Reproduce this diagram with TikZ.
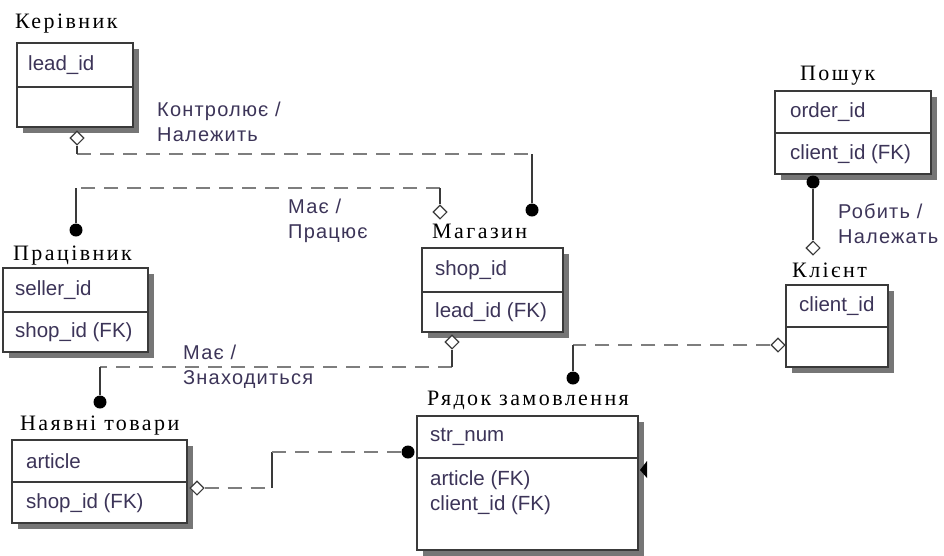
\documentclass[tikz,border=0pt]{standalone}
\usepackage{fontspec}
\setmainfont{Liberation Sans}
\newfontfamily\titlefont[LetterSpace=11]{Liberation Serif}
\newfontfamily\labelfont[LetterSpace=6]{Liberation Sans}
\usetikzlibrary{shapes.geometric,calc}

\definecolor{attrcol}{HTML}{3C3458}
\definecolor{boxcol}{HTML}{3A3A3A}
\definecolor{relgray}{HTML}{7E7E7E}
\definecolor{shadowgray}{HTML}{767676}

% entity: name, left, top, width, height of key part, total height
\newcommand{\entity}[6]{%
  \fill[shadowgray] (#2+6,#3+6) rectangle ++(#4,#6);
  \node[entitybox, minimum width=#4pt, minimum height=#6pt, anchor=north west] (#1) at (#2,#3) {};
  \draw[divider] ($(#1.north west)+(0,#5)$) -- ($(#1.north east)+(0,#5)$);
}

\begin{document}
\begin{tikzpicture}[x=1pt,y=-1pt,
    entitybox/.style={draw=boxcol, line width=1.3pt, fill=white, inner sep=0pt, outer sep=0pt},
    divider/.style={draw=boxcol, line width=1.3pt},
    attr/.style={text=attrcol, font=\fontsize{20.5}{25}\selectfont, inner sep=0pt, anchor=west},
    title/.style={font=\titlefont\fontsize{22}{26}\selectfont, inner sep=0pt, anchor=base west},
    rellabel/.style={text=attrcol, font=\labelfont\fontsize{20}{25}\selectfont, align=left, inner sep=0pt, anchor=west},
    hrel/.style={draw=relgray, line width=2.4pt, dash pattern=on 14pt off 9pt},
    vrel/.style={draw=boxcol, line width=1.2pt},
    opt/.style={diamond, draw=boxcol, fill=white, line width=1.1pt, minimum size=14pt, inner sep=0pt},
    mand/.style={circle, fill=black, minimum size=13pt, inner sep=0pt}]
    \useasboundingbox (0,0) rectangle (944,555);

    % entities
    \entity{lead}{17}{43}{116}{44}{84}
    \entity{shop}{422}{248}{141}{44}{84}
    \entity{seller}{3}{268}{145}{44}{84}
    \entity{goods}{12}{440}{175}{42}{83}
    \entity{orderline}{417}{416}{221}{42}{134}
    \entity{client}{786}{285}{102}{42}{82}
    \entity{search}{775}{91}{156}{42}{83}

    \node[title] (leadname) at (15,28) {Керівник};
    \node[title] (shopname) at (432,238) {Магазин};
    \node[title] (sellername) at (13,260) {Працівник};
    \node[title] (goodsname) at (20,430) {Наявні товари};
    \node[title] (orderlinename) at (427,405) {Рядок замовлення};
    \node[title] (clientname) at (792,277) {Клієнт};
    \node[title] (searchname) at (800,80) {Пошук};

    \foreach \n/\x/\y/\t in {leadpk/28/65/lead\_id,
                             shoppk/435/270/shop\_id, shopfk/435/312/lead\_id (FK),
                             sellerpk/15/290/seller\_id, sellerfk/15/332/shop\_id (FK),
                             goodspk/26/461/article, goodsfk/26/503/shop\_id (FK),
                             orderlinepk/430/437/str\_num, orderlinefka/430/480/article (FK),
                             orderlinefkb/430/505/client\_id (FK),
                             clientpk/799/306/client\_id,
                             searchpk/790/112/order\_id, searchfk/790/154/client\_id (FK)}
        \node[attr] (\n) at (\x,\y) {\t};

    % relationship ends
    \node[opt] (o1) at (77,138) {};
    \node[mand] (m1) at (532,210) {};
    \node[opt] (o2) at (440,212) {};
    \node[mand] (m2) at (76,230) {};
    \node[opt] (o3) at (452,342) {};
    \node[mand] (m3) at (100,402) {};
    \node[opt] (o4) at (197,488) {};
    \node[mand] (m4) at (408,452) {};
    \node[opt] (o5) at (778,345) {};
    \node[mand] (m5) at (573,378) {};
    \node[mand] (m6) at (813,182) {};
    \node[opt] (o6) at (813,248) {};

    % Контролює / Належить
    \draw[hrel] (o1.south |- 0,154) -- (m1.north |- 0,154);
    \draw[vrel] (o1.south) -- (o1.south |- 0,154);
    \draw[vrel] (m1.north) -- (m1.north |- 0,154);
    \node[rellabel] (r1) at (157,122) {Контролює /\\Належить};

    % Має / Працює
    \draw[hrel] (o2.north |- 0,188) -- (m2.north |- 0,188);
    \draw[vrel] (o2.north) -- (o2.north |- 0,188);
    \draw[vrel] (m2.north) -- (m2.north |- 0,188);
    \node[rellabel] (r2) at (288,221) {Має /\\Працює};

    % Має / Знаходиться
    \draw[hrel] (o3.south |- 0,367) -- (m3.north |- 0,367);
    \draw[vrel] (o3.south) -- (o3.south |- 0,367);
    \draw[vrel] (m3.north) -- (m3.north |- 0,367);
    \node[rellabel] (r3) at (183,367) {Має /\\Знаходиться};

    % Наявні товари -- Рядок замовлення
    \draw[hrel] (o4.east) -- (o4.east -| 272,0);
    \draw[vrel] (o4.east -| 272,0) -- (m4.west -| 272,0);
    \draw[hrel] (m4.west -| 272,0) -- (m4.west);

    % Клієнт -- Рядок замовлення
    \draw[hrel] (o5.west) -- (o5.west -| m5.north);
    \draw[vrel] (o5.west -| m5.north) -- (m5.north);

    % Робить / Належать
    \draw[vrel] (m6.south) -- (o6.north);
    \node[rellabel] (r6) at (838,224) {Робить /\\Належать};

    \fill (orderline.north east) ++(2,54) -- ++(7,-9) -- ++(0,17) -- cycle;
\end{tikzpicture}
\end{document}
